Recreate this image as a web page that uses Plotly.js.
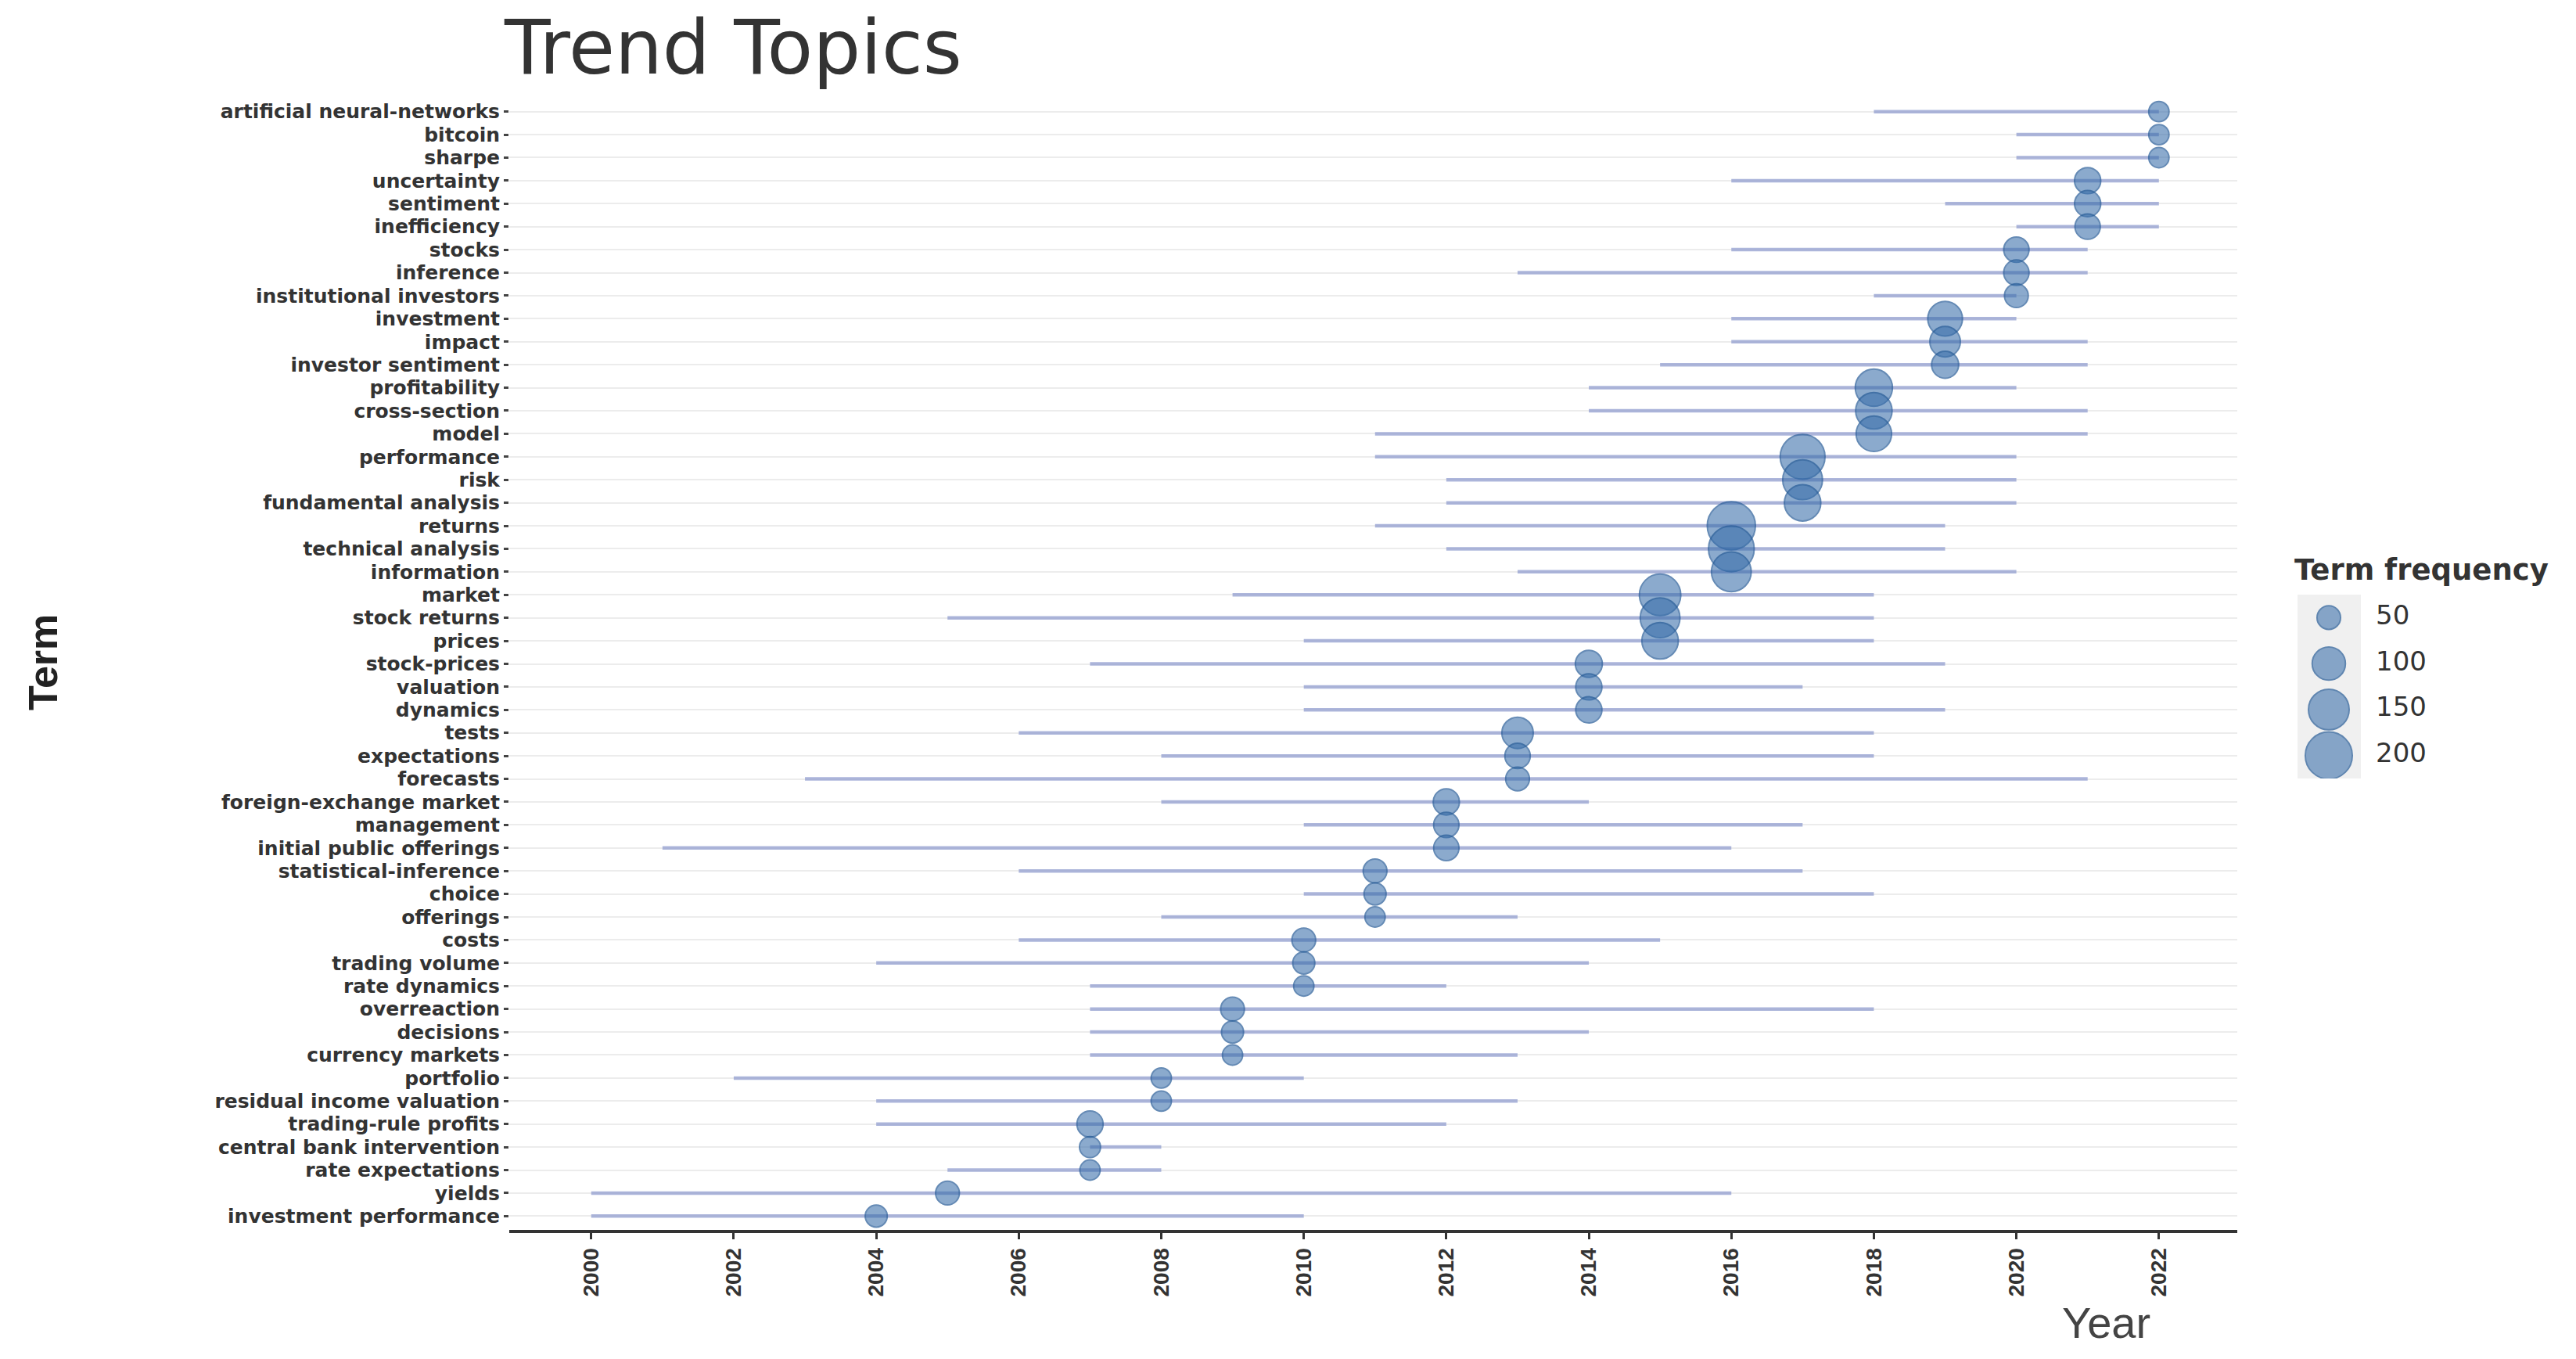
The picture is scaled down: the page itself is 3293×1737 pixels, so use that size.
<!DOCTYPE html>
<html>
<head>
<meta charset="utf-8">
<script src="https://cdn.plot.ly/plotly-3.0.1.min.js"></script>
<style>
  html, body { margin: 0; padding: 0; background: #fff; }
  #chart { width: 3293px; height: 1737px; }
</style>
</head>
<body>
<div id="chart"></div>
<script>
// terms, top to bottom
const terms = [
  'artificial neural-networks', 'bitcoin', 'sharpe', 'uncertainty', 'sentiment', 'inefficiency',
  'stocks', 'inference', 'institutional investors', 'investment', 'impact', 'investor sentiment',
  'profitability', 'cross-section', 'model', 'performance', 'risk', 'fundamental analysis',
  'returns', 'technical analysis', 'information', 'market', 'stock returns', 'prices',
  'stock-prices', 'valuation', 'dynamics', 'tests', 'expectations', 'forecasts',
  'foreign-exchange market', 'management', 'initial public offerings', 'statistical-inference', 'choice', 'offerings',
  'costs', 'trading volume', 'rate dynamics', 'overreaction', 'decisions', 'currency markets',
  'portfolio', 'residual income valuation', 'trading-rule profits', 'central bank intervention', 'rate expectations', 'yields',
  'investment performance'
];

// first quartile year (line start)
const yearQ1 = [
  2018, 2020, 2020, 2016, 2019, 2020,
  2016, 2013, 2018, 2016, 2016, 2015,
  2014, 2014, 2011, 2011, 2012, 2012,
  2011, 2012, 2013, 2009, 2005, 2010,
  2007, 2010, 2010, 2006, 2008, 2003,
  2008, 2010, 2001, 2006, 2010, 2008,
  2006, 2004, 2007, 2007, 2007, 2007,
  2002, 2004, 2004, 2007, 2005, 2000,
  2000
];

// median year (dot)
const yearMed = [
  2022, 2022, 2022, 2021, 2021, 2021,
  2020, 2020, 2020, 2019, 2019, 2019,
  2018, 2018, 2018, 2017, 2017, 2017,
  2016, 2016, 2016, 2015, 2015, 2015,
  2014, 2014, 2014, 2013, 2013, 2013,
  2012, 2012, 2012, 2011, 2011, 2011,
  2010, 2010, 2010, 2009, 2009, 2009,
  2008, 2008, 2007, 2007, 2007, 2005,
  2004
];

// third quartile year (line end)
const yearQ3 = [
  2022, 2022, 2022, 2022, 2022, 2022,
  2021, 2021, 2020, 2020, 2021, 2021,
  2020, 2021, 2021, 2020, 2020, 2020,
  2019, 2019, 2020, 2018, 2018, 2018,
  2019, 2017, 2019, 2018, 2018, 2021,
  2014, 2017, 2016, 2017, 2018, 2013,
  2015, 2014, 2012, 2018, 2014, 2013,
  2010, 2013, 2012, 2008, 2008, 2016,
  2010
];

// term frequency (dot size)
const freq = [
  37, 37, 37, 62, 62, 58,
  58, 58, 51, 109, 84, 66,
  125, 120, 114, 182, 143, 120,
  210, 189, 143, 155, 143, 120,
  66, 62, 62, 89, 58, 51,
  62, 58, 58, 51, 44, 37,
  51, 44, 37, 51, 44, 37,
  37, 37, 62, 40, 37, 51,
  44
];

const legendValues = [50, 100, 150, 200];
const yearTicks = [2000, 2002, 2004, 2006, 2008, 2010, 2012, 2014, 2016, 2018, 2020, 2022];

const W = 3293, H = 1737;
const SIZEREF = 0.111;
const dotFill = 'rgba(55,108,170,0.82)';
const dotEdge = 'rgb(36,90,150)';
const font = 'Liberation Sans';
const wide = 'DejaVu Sans';

// segments from Q1 to Q3, one per term
const segX = [], segY = [];
terms.forEach((t, i) => {
    segX.push(yearQ1[i], yearQ3[i], null);
    segY.push(t, t, null);
});

const segments = {
    x: segX, y: segY,
    type: 'scatter', mode: 'lines',
    line: { color: 'rgba(152,164,210,0.8)', width: 4.5 },
    hoverinfo: 'skip', showlegend: false
};

const dots = {
    x: yearMed, y: terms,
    type: 'scatter', mode: 'markers',
    marker: {
        size: freq, sizemode: 'area', sizeref: SIZEREF,
        color: dotFill, line: { color: dotEdge, width: 2 }
    },
    showlegend: false
};

// size key drawn on its own small axes
const keyDots = {
    x: legendValues.map(() => 40), y: legendValues.map((v, i) => i),
    xaxis: 'x2', yaxis: 'y2',
    type: 'scatter', mode: 'markers',
    marker: {
        size: legendValues, sizemode: 'area', sizeref: SIZEREF,
        color: dotFill, line: { color: dotEdge, width: 2 }
    },
    hoverinfo: 'skip', showlegend: false
};

const keyText = {
    x: legendValues.map(() => 100), y: legendValues.map((v, i) => i),
    xaxis: 'x2', yaxis: 'y2',
    type: 'scatter', mode: 'text',
    text: legendValues.map(String), textposition: 'middle right',
    textfont: { family: wide, size: 34, color: '#333' },
    hoverinfo: 'skip', showlegend: false
};

const layout = {
    width: W, height: H,
    margin: { l: 0, r: 0, t: 0, b: 0 },
    paper_bgcolor: '#fff', plot_bgcolor: '#fff',
    showlegend: false,
    hovermode: false,
    title: {
        text: 'Trend Topics',
        font: { family: wide, size: 96, color: '#333' },
        x: 645 / W, xanchor: 'left', xref: 'paper',
        y: 1 - 60 / H, yanchor: 'middle', yref: 'paper'
    },
    xaxis: {
        domain: [651 / W, 2860 / W],
        range: [1998.85, 2023.1],
        tickvals: yearTicks,
        tickangle: -90,
        tickfont: { family: font, size: 28, color: '#333', weight: 'bold' },
        ticks: 'outside', ticklen: 8, tickwidth: 3, tickcolor: '#333',
        showline: true, linecolor: '#333', linewidth: 4,
        showgrid: false, zeroline: false
    },
    yaxis: {
        domain: [1 - 1572 / H, 1 - 125 / H],
        type: 'category',
        categoryorder: 'array',
        categoryarray: terms.slice().reverse(),
        tickmode: 'array', tickvals: terms, ticktext: terms,
        range: [-0.6, terms.length - 0.4],
        tickfont: { family: wide, size: 25, color: '#333', weight: 'bold' },
        ticks: 'outside', ticklen: 6, tickwidth: 3, tickcolor: '#444',
        showgrid: true, gridcolor: '#ececec', gridwidth: 2,
        showline: false, zeroline: false
    },
    xaxis2: {
        domain: [2937 / W, 3150 / W], range: [0, 213],
        anchor: 'y2', visible: false, fixedrange: true
    },
    yaxis2: {
        domain: [1 - 995 / H, 1 - 760 / H], range: [3.5, -0.5],
        anchor: 'x2', visible: false, fixedrange: true
    },
    shapes: [{
        type: 'rect', xref: 'paper', yref: 'paper',
        x0: 2937 / W, x1: 3018 / W, y0: 1 - 995 / H, y1: 1 - 760 / H,
        fillcolor: '#f0f0f0', line: { width: 0 }, layer: 'below'
    }],
    annotations: [
        {
            text: 'Term', textangle: -90, showarrow: false,
            xref: 'paper', yref: 'paper', x: 55 / W, y: 1 - 847 / H,
            xanchor: 'center', yanchor: 'middle',
            font: { family: font, size: 52, color: '#222', weight: 'bold' }
        },
        {
            text: 'Year', showarrow: false,
            xref: 'paper', yref: 'paper', x: 2692 / W, y: 1 - 1690 / H,
            xanchor: 'center', yanchor: 'middle',
            font: { family: font, size: 56, color: '#444' }
        },
        {
            text: 'Term frequency', showarrow: false,
            xref: 'paper', yref: 'paper', x: 2931 / W, y: 1 - 728 / H,
            xanchor: 'left', yanchor: 'middle',
            font: { family: wide, size: 37, color: '#333', weight: 'bold' }
        }
    ]
};

Plotly.newPlot('chart', [segments, dots, keyDots, keyText], layout, { displayModeBar: false, staticPlot: true });
</script>
</body>
</html>
